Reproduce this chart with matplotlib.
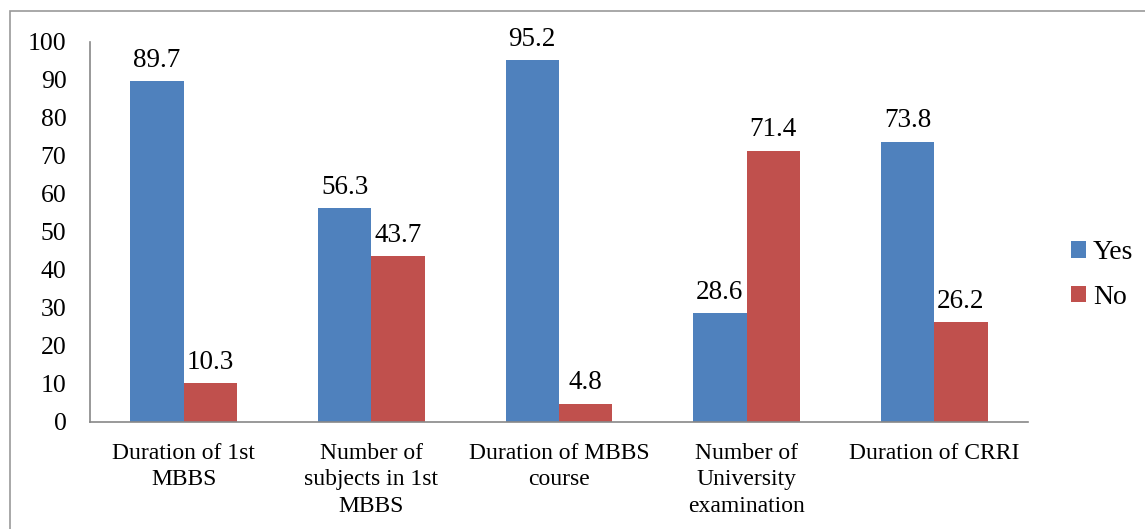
import matplotlib.pyplot as plt
from matplotlib.patches import Rectangle
import numpy as np

# dados
categorias = ["Duration of 1st\nMBBS", "Number of\nsubjects in 1st\nMBBS",
              "Duration of MBBS\ncourse", "Number of\nUniversity\nexamination",
              "Duration of CRRI"]
sim = [89.7, 56.3, 95.2, 28.6, 73.8]
nao = [10.3, 43.7, 4.8, 71.4, 26.2]

plt.rcParams['font.family'] = ['Liberation Serif', 'DejaVu Serif']

fig = plt.figure(figsize=(11.45, 5.29), dpi=100)
ax = fig.add_axes([90/1145, 1 - 422/529, (1028 - 90)/1145, (422 - 42)/529])

x = np.arange(len(categorias))
w = 0.285
b1 = ax.bar(x - w/2, sim, w, color="#4F81BD", label="Yes")
b2 = ax.bar(x + w/2, nao, w, color="#C0504D", label="No")

for barras in (b1, b2):
    for b in barras:
        ax.annotate(f"{b.get_height():.1f}", (b.get_x() + b.get_width()/2, b.get_height()),
                    xytext=(0, 6), textcoords="offset points", ha="center", va="bottom",
                    fontsize=19.5)

ax.set_xlim(-0.5, len(categorias) - 0.5)
ax.set_ylim(0, 100)
ax.set_yticks(range(0, 101, 10))
ax.set_xticks(x)
ax.set_xticklabels(categorias, fontsize=17, linespacing=1.35)
ax.tick_params(axis="y", labelsize=18.5, length=0, pad=17)
ax.tick_params(axis="x", length=0, pad=15)
for s in ["top", "right"]:
    ax.spines[s].set_visible(False)
for s in ["left", "bottom"]:
    ax.spines[s].set_color("#888888")
    ax.spines[s].set_linewidth(1.2)

fig.legend(handles=[b1, b2], loc="center left", bbox_to_anchor=(1057/1145, 1 - 275/529),
           frameon=False, fontsize=20, handlelength=0.55, handleheight=0.55,
           handletextpad=0.25, labelspacing=0.7, borderpad=0)

# moldura
fig.patches.append(Rectangle((10/1145, -0.1), 1.2, 1 - 11/529 + 0.1, transform=fig.transFigure,
                             fill=False, edgecolor="#999999", linewidth=1.2))

fig.savefig("out.png", dpi=100)
